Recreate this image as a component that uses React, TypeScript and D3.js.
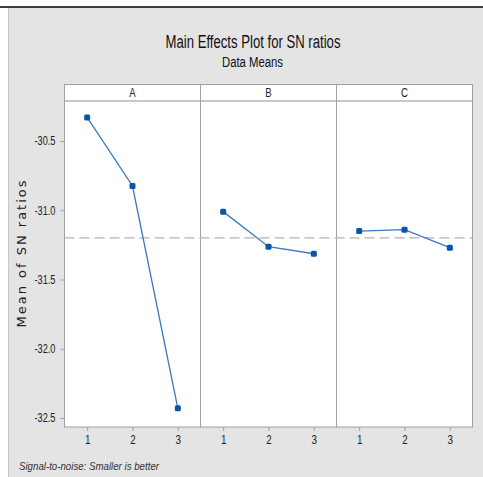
import React, { useEffect, useRef } from 'react';
import * as d3 from 'd3';

const factors = ['A', 'B', 'C'];
const levels = [1, 2, 3];
const meansA = [-30.33, -30.825, -32.43];
const meansB = [-31.01, -31.263, -31.314];
const meansC = [-31.15, -31.14, -31.27];
const overallMean = -31.2;
const yTicks = [-30.5, -31.0, -31.5, -32.0, -32.5];

const series = [meansA, meansB, meansC];

const FONT = "'Liberation Sans', Arial, sans-serif";

const App: React.FC = () => {
  const ref = useRef<SVGSVGElement>(null);

  useEffect(() => {
    const svg = d3.select(ref.current!);
    svg.selectAll('*').remove();

    const W = 483;
    const H = 477;

    // page background and frame
    svg.append('rect').attr('width', W).attr('height', H).attr('fill', '#fff');
    svg.append('rect').attr('x', 9).attr('y', 8).attr('width', W - 9).attr('height', H - 8).attr('fill', '#e4e4e4');
    svg.append('line').attr('x1', 8.5).attr('x2', 8.5).attr('y1', 8).attr('y2', H).attr('stroke', '#c8c8c8');
    svg.append('line').attr('x1', 0).attr('x2', W).attr('y1', 7).attr('y2', 7).attr('stroke', '#000').attr('stroke-width', 1.6);

    const left = 64.5;
    const right = 472.5;
    const headTop = 84.5;
    const top = 101;
    const bottom = 427;
    const panelW = (right - left) / factors.length;

    const y = d3.scaleLinear().domain([-30.5, -32.5]).range([141, 418]);

    // title
    svg.append('text').attr('x', 253).attr('y', 48).attr('text-anchor', 'middle')
      .attr('font-family', FONT).attr('font-size', 18).attr('fill', '#111')
      .attr('textLength', 175).attr('lengthAdjust', 'spacingAndGlyphs')
      .text('Main Effects Plot for SN ratios');
    svg.append('text').attr('x', 252.5).attr('y', 67).attr('text-anchor', 'middle')
      .attr('font-family', FONT).attr('font-size', 14).attr('fill', '#111')
      .attr('textLength', 61).attr('lengthAdjust', 'spacingAndGlyphs')
      .text('Data Means');

    // panels
    factors.forEach((f, i) => {
      const x0 = left + i * panelW;
      svg.append('rect').attr('x', x0).attr('y', top).attr('width', panelW).attr('height', bottom - top)
        .attr('fill', '#fff').attr('stroke', '#a0a0a0');
      svg.append('rect').attr('x', x0).attr('y', headTop).attr('width', panelW).attr('height', top - headTop)
        .attr('fill', '#fff').attr('stroke', '#a0a0a0');
      svg.append('line').attr('x1', x0 + 0.5).attr('x2', x0 + panelW - 0.5).attr('y1', top).attr('y2', top)
        .attr('stroke', '#c8c8c8').attr('stroke-width', 2);
      svg.append('text').attr('x', x0 + panelW / 2).attr('y', 97).attr('text-anchor', 'middle')
        .attr('font-family', FONT).attr('font-size', 12).attr('fill', '#222')
        .attr('transform', `translate(${(x0 + panelW / 2) * 0.2},0) scale(0.8,1)`).text(f);
    });

    // reference mean line
    svg.append('line').attr('x1', left).attr('x2', right).attr('y1', y(overallMean)).attr('y2', y(overallMean))
      .attr('stroke', '#b4b4b4').attr('stroke-width', 1.3).attr('stroke-dasharray', '10,5');

    // y axis
    const yAxis = svg.append('g').attr('transform', `translate(${left},0)`)
      .call(d3.axisLeft(y).tickValues(yTicks).tickFormat((d) => d3.format('.1f')(d as number).replace('−', '-'))
        .tickSize(4).tickPadding(5));
    yAxis.select('.domain').remove();
    yAxis.selectAll('line').attr('stroke', '#a0a0a0');
    yAxis.selectAll('text').attr('font-family', FONT).attr('font-size', 12).attr('fill', '#222')
      .attr('textLength', 21).attr('lengthAdjust', 'spacingAndGlyphs');

    svg.append('text').attr('transform', `translate(26,253) rotate(-90)`).attr('text-anchor', 'middle')
      .attr('font-family', "'DejaVu Sans', sans-serif").attr('font-size', 13)
      .attr('letter-spacing', 2).attr('fill', '#222').text('Mean of SN ratios');

    // series
    series.forEach((vals, i) => {
      const x0 = left + i * panelW;
      const x = d3.scalePoint<number>().domain(levels).range([x0, x0 + panelW]).padding(0.5);
      const xAxis = svg.append('g').attr('transform', `translate(0,${bottom})`)
        .call(d3.axisBottom(x).tickSize(4).tickPadding(4));
      xAxis.select('.domain').remove();
      xAxis.selectAll('line').attr('stroke', '#a0a0a0');
      xAxis.selectAll('text').attr('font-family', FONT).attr('font-size', 12).attr('fill', '#222')
        .attr('textLength', 5.5).attr('lengthAdjust', 'spacingAndGlyphs');

      const pts = levels.map((l, j) => [x(l)!, y(vals[j])] as [number, number]);
      svg.append('path').attr('d', d3.line()(pts)).attr('fill', 'none')
        .attr('stroke', '#3a78c4').attr('stroke-width', 1.3);
      svg.selectAll(null).data(pts).enter().append('rect')
        .attr('x', (d) => d[0] - 3).attr('y', (d) => d[1] - 3).attr('width', 6).attr('height', 6)
        .attr('rx', 1.5).attr('fill', '#0b54a8');
    });

    svg.append('text').attr('x', 19).attr('y', 470).attr('font-family', FONT).attr('font-style', 'italic')
      .attr('font-size', 11).attr('fill', '#333').attr('textLength', 140).attr('lengthAdjust', 'spacingAndGlyphs')
      .text('Signal-to-noise: Smaller is better');
  }, []);

  return <svg ref={ref} width={483} height={477} style={{ position: 'absolute', left: 0, top: 0 }} />;
};

export default App;
